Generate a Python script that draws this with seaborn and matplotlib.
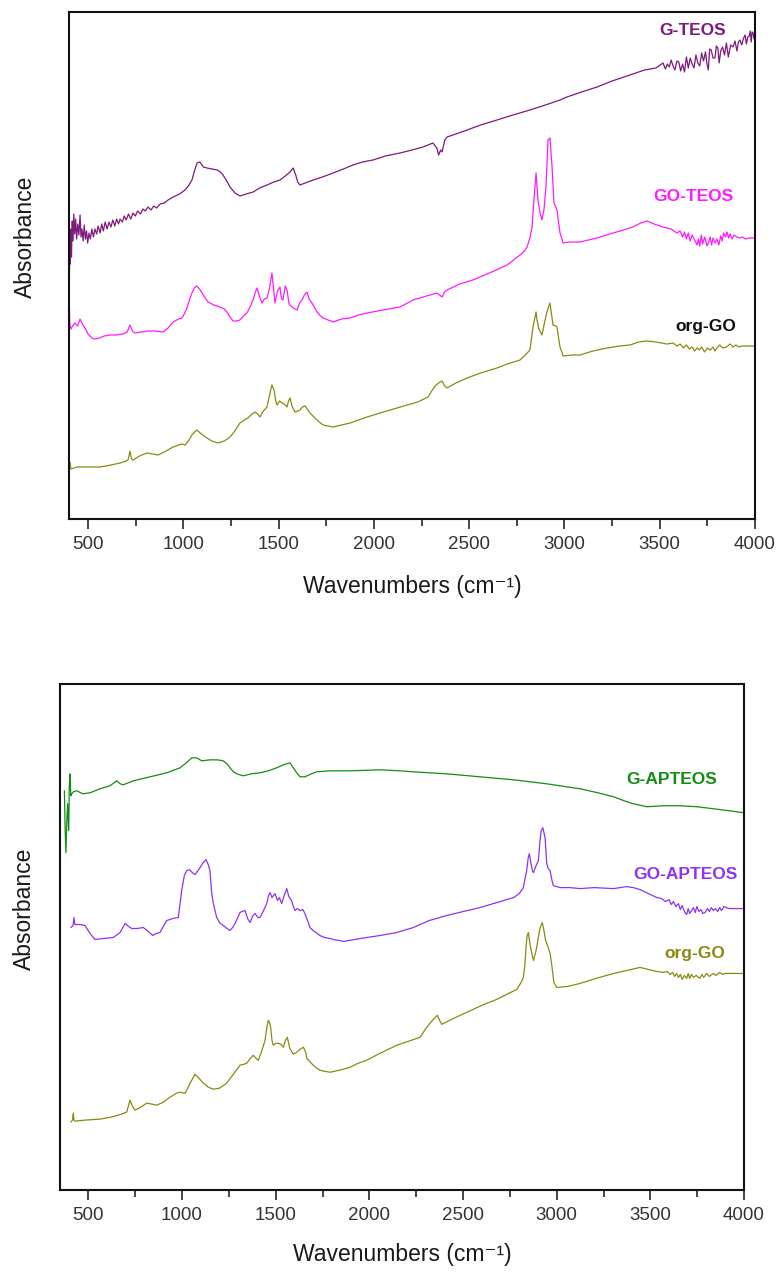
import numpy as np
import matplotlib
matplotlib.use("Agg")
import matplotlib.pyplot as plt
import seaborn as sns

# ---------------- spectra: TEOS panel ----------------
g_teos_wn = [400, 402, 404, 407, 410, 413, 417, 421, 425, 430, 435, 440, 446, 452, 458, 463, 468,
             474, 480, 486, 492, 498, 505, 512, 520, 528, 536, 545, 553, 563, 572, 580, 590, 600,
             610, 620, 630, 640, 650, 660, 668, 680, 690, 700, 712, 724, 736, 748, 760, 775, 788,
             800, 815, 830, 845, 860, 878, 900, 920, 947, 980, 1009, 1030, 1045,
             1060, 1072, 1087, 1105, 1124, 1150, 1177, 1195, 1208, 1225, 1245, 1271, 1297, 1330,
             1366, 1400, 1439, 1475, 1507, 1535, 1560, 1576, 1590, 1600, 1612, 1640, 1681, 1730,
             1786, 1840, 1890, 1940, 1995, 2060, 2137, 2200, 2258, 2310, 2330, 2340, 2350, 2358,
             2372, 2384, 2430, 2489, 2560, 2646, 2730, 2819, 2900, 2977, 3013, 3090, 3171, 3250,
             3344, 3420, 3480, 3517, 3530, 3540, 3550, 3560, 3570, 3580, 3590, 3600, 3610, 3620,
             3630, 3640, 3650, 3660, 3670, 3680, 3690, 3700, 3710, 3720, 3730, 3740, 3748, 3755,
             3762, 3770, 3780, 3790, 3797, 3805, 3812, 3820, 3830, 3840, 3850, 3860, 3872, 3885,
             3895, 3905, 3913, 3921, 3930, 3940, 3948, 3955, 3962, 3970, 3975, 3980, 3985, 3990,
             3995, 4000]
g_teos_abs = [3.02, 2.40, 2.80, 2.55, 2.90, 2.62, 2.98, 2.78, 3.05, 2.85, 3.00, 2.80, 2.95, 2.84,
              3.04, 2.82, 2.90, 2.78, 2.94, 2.80, 2.88, 2.76, 2.86, 2.80, 2.90, 2.82, 2.90, 2.85,
              2.93, 2.86, 2.95, 2.88, 2.97, 2.90, 2.97, 2.92, 2.99, 2.93, 3.00, 2.95, 3.00, 2.97,
              3.03, 2.99, 3.05, 3.00, 3.06, 3.03, 3.08, 3.05, 3.10, 3.08, 3.12, 3.09, 3.13, 3.11,
              3.15, 3.16, 3.19, 3.22, 3.25, 3.29, 3.34, 3.39, 3.49, 3.56, 3.57, 3.52, 3.51, 3.50,
              3.49, 3.47, 3.44, 3.39, 3.32, 3.26, 3.23, 3.25, 3.27, 3.31, 3.34, 3.37, 3.39, 3.43,
              3.47, 3.51, 3.44, 3.37, 3.34, 3.36, 3.39, 3.42, 3.46, 3.50, 3.54, 3.57, 3.59, 3.63,
              3.66, 3.69, 3.72, 3.76, 3.71, 3.64, 3.69, 3.67, 3.79, 3.82, 3.85, 3.89, 3.94, 3.99,
              4.04, 4.09, 4.14, 4.19, 4.22, 4.27, 4.32, 4.38, 4.44, 4.49, 4.51, 4.56, 4.50, 4.55,
              4.52, 4.59, 4.53, 4.49, 4.58, 4.57, 4.48, 4.55, 4.47, 4.62, 4.51, 4.61, 4.55, 4.51,
              4.64, 4.56, 4.53, 4.66, 4.58, 4.67, 4.55, 4.49, 4.70, 4.69, 4.61, 4.61, 4.73, 4.71,
              4.56, 4.68, 4.72, 4.64, 4.76, 4.62, 4.74, 4.72, 4.78, 4.68, 4.77, 4.79, 4.74, 4.81,
              4.84, 4.75, 4.82, 4.83, 4.88, 4.77, 4.87, 4.86, 4.80, 4.82]

go_teos_wn = [400, 404, 410, 416, 430, 445, 458, 470, 484, 500, 520, 536, 560, 585, 615, 650, 683,
              705, 720, 733, 746, 780, 809, 850, 893, 920, 946, 975, 993, 1005, 1019, 1032, 1045,
              1058, 1070, 1085, 1098, 1115, 1130, 1160, 1192, 1215, 1229, 1245, 1261, 1280, 1297,
              1320, 1334, 1350, 1366, 1378, 1387, 1400, 1413, 1425, 1439, 1452, 1460, 1465, 1472,
              1481, 1494, 1507, 1515, 1523, 1535, 1544, 1555, 1570, 1585, 1597, 1610, 1623, 1635,
              1649, 1660, 1675, 1690, 1702, 1715, 1733, 1760, 1786, 1830, 1875, 1920, 1964, 2048,
              2137, 2206, 2258, 2331, 2345, 2358, 2370, 2384, 2450, 2520, 2557, 2630, 2699, 2767,
              2790, 2804, 2820, 2830, 2840, 2851, 2861, 2872, 2882, 2893, 2903, 2914, 2924, 2935,
              2945, 2955, 2961, 2970, 2977, 2993, 3030, 3082, 3170, 3255, 3310, 3360, 3400, 3433,
              3470, 3517, 3560, 3590, 3607, 3620, 3630, 3640, 3650, 3660, 3670, 3683, 3696, 3703,
              3710, 3718, 3725, 3736, 3748, 3757, 3765, 3772, 3780, 3790, 3800, 3810, 3820, 3828,
              3835, 3845, 3853, 3862, 3870, 3880, 3890, 3905, 3921, 3935, 3950, 3970, 4000]
go_teos_abs = [2.30, 1.95, 1.90, 1.92, 1.96, 1.93, 2.00, 1.95, 1.91, 1.85, 1.81, 1.80, 1.81, 1.83,
               1.84, 1.84, 1.85, 1.87, 1.94, 1.88, 1.86, 1.87, 1.88, 1.88, 1.87, 1.91, 1.97, 2.00,
               2.01, 2.05, 2.11, 2.19, 2.26, 2.31, 2.33, 2.30, 2.26, 2.21, 2.17, 2.14, 2.12, 2.10,
               2.07, 2.02, 1.98, 1.98, 1.99, 2.04, 2.06, 2.12, 2.19, 2.27, 2.31, 2.22, 2.16, 2.20,
               2.21, 2.30, 2.40, 2.46, 2.33, 2.16, 2.28, 2.32, 2.20, 2.19, 2.33, 2.29, 2.15, 2.12,
               2.10, 2.09, 2.16, 2.19, 2.24, 2.27, 2.20, 2.16, 2.11, 2.07, 2.04, 2.01, 1.99, 1.97,
               2.00, 2.01, 2.04, 2.06, 2.09, 2.12, 2.19, 2.22, 2.26, 2.24, 2.22, 2.27, 2.29, 2.35,
               2.39, 2.42, 2.48, 2.54, 2.64, 2.68, 2.72, 2.82, 2.92, 3.19, 3.46, 3.19, 3.06, 2.99,
               3.10, 3.32, 3.79, 3.81, 3.52, 3.16, 3.12, 3.09, 2.95, 2.86, 2.76, 2.77, 2.77, 2.81,
               2.86, 2.89, 2.92, 2.96, 2.98, 2.95, 2.92, 2.90, 2.86, 2.88, 2.82, 2.87, 2.80, 2.86,
               2.78, 2.84, 2.79, 2.74, 2.80, 2.73, 2.84, 2.75, 2.82, 2.73, 2.77, 2.82, 2.74, 2.81,
               2.76, 2.80, 2.74, 2.83, 2.78, 2.86, 2.82, 2.87, 2.81, 2.85, 2.80, 2.84, 2.82, 2.81,
               2.82, 2.80, 2.81, 2.81]

org_go_top_wn = [400, 405, 410, 442, 500, 563, 620, 668, 700, 710, 720, 728, 736, 770, 809, 840,
                 867, 900, 946, 975, 993, 1009, 1030, 1045, 1070, 1095, 1124, 1150, 1182, 1215,
                 1245, 1270, 1297, 1320, 1339, 1360, 1376, 1390, 1402, 1420, 1439, 1455, 1465,
                 1476, 1485, 1492, 1505, 1518, 1530, 1544, 1552, 1560, 1570, 1586, 1600, 1612,
                 1625, 1639, 1650, 1665, 1685, 1702, 1720, 1733, 1760, 1786, 1830, 1875, 1920,
                 1964, 2032, 2137, 2174, 2230, 2284, 2300, 2321, 2340, 2358, 2372, 2384, 2430,
                 2489, 2560, 2646, 2700, 2767, 2800, 2819, 2835, 2851, 2856, 2866, 2882, 2895,
                 2908, 2924, 2940, 2955, 2961, 2970, 2977, 2993, 3040, 3082, 3150, 3223, 3290,
                 3344, 3390, 3433, 3480, 3538, 3570, 3590, 3607, 3625, 3640, 3655, 3670, 3683,
                 3696, 3708, 3720, 3735, 3750, 3765, 3780, 3790, 3800, 3815, 3830, 3850, 3869,
                 3885, 3900, 3915, 3930, 3960, 4000]
org_go_top_abs = [0.49, 0.57, 0.50, 0.52, 0.52, 0.52, 0.54, 0.56, 0.58, 0.59, 0.68, 0.60, 0.59,
                  0.63, 0.66, 0.65, 0.64, 0.67, 0.72, 0.74, 0.75, 0.74, 0.79, 0.84, 0.89, 0.85,
                  0.81, 0.78, 0.76, 0.78, 0.82, 0.88, 0.96, 0.99, 1.01, 1.05, 1.07, 1.05, 1.02,
                  1.08, 1.12, 1.26, 1.34, 1.29, 1.18, 1.14, 1.18, 1.16, 1.15, 1.12, 1.18, 1.21,
                  1.13, 1.07, 1.08, 1.09, 1.12, 1.13, 1.10, 1.06, 1.02, 0.99, 0.96, 0.94, 0.93,
                  0.92, 0.94, 0.96, 0.99, 1.02, 1.06, 1.12, 1.14, 1.17, 1.22, 1.27, 1.33, 1.36,
                  1.38, 1.33, 1.31, 1.36, 1.41, 1.46, 1.51, 1.55, 1.59, 1.65, 1.69, 1.92, 2.07,
                  1.99, 1.90, 1.84, 1.96, 2.07, 2.16, 1.94, 1.93, 1.92, 1.80, 1.72, 1.63, 1.64,
                  1.64, 1.68, 1.71, 1.73, 1.74, 1.77, 1.78, 1.77, 1.75, 1.76, 1.73, 1.75, 1.71,
                  1.74, 1.70, 1.72, 1.68, 1.71, 1.69, 1.72, 1.67, 1.71, 1.69, 1.72, 1.68, 1.71,
                  1.74, 1.71, 1.72, 1.75, 1.72, 1.74, 1.72, 1.73, 1.73, 1.73]

# ---------------- spectra: APTEOS panel ----------------
g_apteos_wn = [372, 376, 380, 385, 389, 395, 398, 402, 406, 411, 420, 438, 470, 509, 562, 615,
               651, 670, 686, 740, 829, 918, 989, 1016, 1035, 1052, 1078, 1105, 1149, 1190, 1220,
               1240, 1256, 1275, 1292, 1327, 1370, 1416, 1460, 1505, 1540, 1576, 1594, 1612,
               1630, 1656, 1690, 1719, 1790, 1897, 2057, 2164, 2235, 2413, 2591, 2770, 2947,
               3125, 3220, 3304, 3360, 3409, 3481, 3570, 3659, 3750, 3836, 3920, 4000]
g_apteos_abs = [4.00, 3.60, 3.38, 3.70, 3.87, 3.60, 4.05, 4.17, 3.95, 3.97, 3.99, 4.00, 3.97,
                3.98, 4.02, 4.05, 4.10, 4.07, 4.06, 4.10, 4.14, 4.18, 4.23, 4.27, 4.30, 4.33,
                4.33, 4.30, 4.31, 4.31, 4.30, 4.27, 4.23, 4.19, 4.17, 4.15, 4.17, 4.18, 4.20,
                4.23, 4.26, 4.28, 4.23, 4.18, 4.14, 4.14, 4.17, 4.19, 4.20, 4.20, 4.21, 4.20,
                4.19, 4.17, 4.14, 4.11, 4.07, 4.02, 3.98, 3.94, 3.90, 3.87, 3.84, 3.85, 3.85,
                3.84, 3.82, 3.80, 3.78]

go_apteos_wn = [407, 418, 423, 428, 455, 482, 509, 535, 580, 633, 669, 696, 715, 731, 760, 793,
                820, 843, 862, 882, 900, 918, 950, 980, 998, 1012, 1025, 1039, 1055, 1069, 1085,
                1096, 1112, 1128, 1140, 1149, 1158, 1167, 1185, 1200, 1220, 1240, 1256, 1270,
                1283, 1300, 1309, 1320, 1336, 1350, 1363, 1378, 1390, 1405, 1416, 1435, 1452,
                1462, 1470, 1480, 1496, 1510, 1520, 1532, 1545, 1559, 1570, 1585, 1594, 1603,
                1615, 1630, 1645, 1656, 1670, 1683, 1700, 1715, 1736, 1760, 1790, 1807, 1840,
                1861, 1920, 1986, 2057, 2146, 2235, 2320, 2413, 2500, 2591, 2680, 2770, 2800,
                2822, 2832, 2840, 2848, 2854, 2862, 2870, 2876, 2890, 2902, 2910, 2917, 2926,
                2932, 2938, 2947, 2955, 2965, 2975, 2982, 3018, 3070, 3125, 3200, 3304, 3374,
                3410, 3445, 3490, 3534, 3560, 3580, 3600, 3612, 3623, 3637, 3650, 3660, 3670,
                3682, 3694, 3702, 3710, 3720, 3730, 3740, 3748, 3760, 3770, 3781, 3792, 3805,
                3815, 3826, 3836, 3848, 3860, 3870, 3880, 3893, 3907, 3920, 3940, 3970, 4000]
go_apteos_abs = [2.63, 2.65, 2.73, 2.66, 2.66, 2.65, 2.57, 2.51, 2.52, 2.53, 2.58, 2.67, 2.64,
                 2.62, 2.62, 2.63, 2.59, 2.55, 2.57, 2.58, 2.64, 2.70, 2.72, 2.73, 3.00, 3.15,
                 3.20, 3.21, 3.18, 3.16, 3.20, 3.23, 3.28, 3.31, 3.26, 3.20, 2.98, 2.87, 2.73,
                 2.68, 2.65, 2.62, 2.60, 2.63, 2.67, 2.74, 2.78, 2.79, 2.80, 2.72, 2.68, 2.75,
                 2.77, 2.73, 2.73, 2.80, 2.87, 2.95, 2.98, 2.93, 2.97, 2.90, 2.93, 2.87, 2.95,
                 3.02, 2.94, 2.90, 2.84, 2.80, 2.82, 2.80, 2.81, 2.77, 2.70, 2.63, 2.60, 2.58,
                 2.55, 2.53, 2.52, 2.51, 2.50, 2.49, 2.51, 2.53, 2.55, 2.58, 2.63, 2.70, 2.75,
                 2.79, 2.83, 2.88, 2.93, 2.97, 3.03, 3.13, 3.20, 3.33, 3.37, 3.28, 3.20, 3.18,
                 3.25, 3.30, 3.48, 3.60, 3.63, 3.58, 3.53, 3.27, 3.22, 3.20, 3.10, 3.05, 3.03,
                 3.03, 3.02, 3.03, 3.02, 3.04, 3.03, 3.01, 2.97, 2.93, 2.92, 2.89, 2.91, 2.86,
                 2.89, 2.84, 2.87, 2.81, 2.85, 2.79, 2.76, 2.82, 2.77, 2.80, 2.83, 2.78, 2.84,
                 2.79, 2.81, 2.77, 2.78, 2.82, 2.79, 2.83, 2.80, 2.82, 2.79, 2.83, 2.80, 2.84,
                 2.83, 2.82, 2.82, 2.82, 2.82]

org_go_bot_wn = [407, 415, 419, 423, 428, 480, 562, 620, 660, 690, 704, 715, 722, 735, 749, 780,
                 811, 840, 865, 900, 936, 970, 989, 1016, 1030, 1043, 1069, 1090, 1114, 1140,
                 1167, 1200, 1238, 1270, 1309, 1330, 1345, 1365, 1380, 1395, 1407, 1425, 1443,
                 1452, 1460, 1467, 1473, 1480, 1487, 1500, 1514, 1528, 1541, 1552, 1562, 1575,
                 1594, 1612, 1630, 1648, 1660, 1666, 1685, 1701, 1720, 1736, 1760, 1790, 1840,
                 1897, 1940, 1986, 2057, 2146, 2270, 2306, 2341, 2363, 2375, 2386, 2450, 2520,
                 2600, 2680, 2787, 2810, 2822, 2830, 2835, 2842, 2849, 2856, 2866, 2876, 2890,
                 2902, 2912, 2923, 2932, 2941, 2953, 2965, 2974, 2985, 3000, 3060, 3125, 3210,
                 3304, 3374, 3445, 3490, 3534, 3570, 3590, 3605, 3618, 3630, 3640, 3650, 3660,
                 3670, 3682, 3694, 3702, 3710, 3720, 3730, 3745, 3765, 3775, 3785, 3800, 3815,
                 3836, 3850, 3870, 3885, 3900, 3940, 4000]
org_go_bot_abs = [0.68, 0.70, 0.77, 0.70, 0.69, 0.70, 0.71, 0.73, 0.75, 0.77, 0.78, 0.85, 0.90,
                  0.84, 0.80, 0.83, 0.87, 0.86, 0.85, 0.88, 0.93, 0.97, 0.98, 0.97, 1.02, 1.07,
                  1.16, 1.12, 1.07, 1.03, 1.01, 1.02, 1.07, 1.15, 1.25, 1.26, 1.27, 1.32, 1.35,
                  1.32, 1.30, 1.39, 1.50, 1.62, 1.70, 1.68, 1.63, 1.50, 1.45, 1.47, 1.47, 1.46,
                  1.43, 1.50, 1.53, 1.42, 1.36, 1.38, 1.41, 1.43, 1.38, 1.32, 1.28, 1.25, 1.22,
                  1.20, 1.19, 1.18, 1.20, 1.23, 1.27, 1.30, 1.37, 1.45, 1.53, 1.63, 1.71, 1.75,
                  1.70, 1.66, 1.72, 1.78, 1.85, 1.91, 2.01, 2.08, 2.13, 2.25, 2.40, 2.55, 2.58,
                  2.48, 2.38, 2.30, 2.40, 2.53, 2.63, 2.68, 2.60, 2.50, 2.44, 2.37, 2.25, 2.08,
                  2.03, 2.04, 2.07, 2.12, 2.17, 2.20, 2.23, 2.21, 2.19, 2.18, 2.19, 2.16, 2.18,
                  2.14, 2.17, 2.13, 2.16, 2.11, 2.15, 2.12, 2.17, 2.12, 2.16, 2.13, 2.15, 2.12,
                  2.16, 2.13, 2.17, 2.14, 2.17, 2.15, 2.18, 2.16, 2.17, 2.17, 2.17]

# series labels
teos_names = ["G-TEOS", "GO-TEOS", "org-GO"]
apteos_names = ["G-APTEOS", "GO-APTEOS", "org-GO"]
x_ticks = [500, 1000, 1500, 2000, 2500, 3000, 3500, 4000]

# ---------------- styling ----------------
sns.set_style("ticks")
plt.rcParams["font.family"] = ["Liberation Sans", "DejaVu Sans"]

C_PURPLE = "#7d1a7b"
C_MAGENTA = "#ff1aff"
C_OLIVE = "#8a8a12"
C_GREEN = "#138c13"
C_VIOLET = "#8d33f2"

fig = plt.figure(figsize=(7.79, 12.72), dpi=100)
ax1 = fig.add_axes([69 / 779, 1 - 519 / 1272, 686 / 779, 507 / 1272])
ax2 = fig.add_axes([60.3 / 779, 1 - 1190 / 1272, 683.7 / 779, 506 / 1272])


def draw_line(ax, wn, ab, color):
    sns.lineplot(x=wn, y=ab, ax=ax, color=color, linewidth=0.9,
                 estimator=None, sort=False, legend=False)


draw_line(ax1, g_teos_wn, g_teos_abs, C_PURPLE)
draw_line(ax1, go_teos_wn, go_teos_abs, C_MAGENTA)
draw_line(ax1, org_go_top_wn, org_go_top_abs, C_OLIVE)

draw_line(ax2, g_apteos_wn, g_apteos_abs, C_GREEN)
draw_line(ax2, go_apteos_wn, go_apteos_abs, C_VIOLET)
draw_line(ax2, org_go_bot_wn, org_go_bot_abs, C_OLIVE)

lab_kw = dict(fontsize=12.5, fontweight="bold", ha="center", va="center")
ax1.text(3670, 4.88, teos_names[0], color=C_PURPLE, **lab_kw)
ax1.text(3675, 3.22, teos_names[1], color=C_MAGENTA, **lab_kw)
ax1.text(3743, 1.92, teos_names[2], color="#111111", **lab_kw)
ax2.text(3616, 4.11, apteos_names[0], color=C_GREEN, **lab_kw)
ax2.text(3685, 3.16, apteos_names[1], color=C_VIOLET, **lab_kw)
ax2.text(3739, 2.37, apteos_names[2], color=C_OLIVE, **lab_kw)

for ax, xmin, ylab_x, ylab_y, xlab_y in [(ax1, 400, -0.064, 0.556, -0.134),
                                         (ax2, 350, -0.052, 0.555, -0.128)]:
    ax.set_xlim(xmin, 4000)
    ax.set_ylim(0, 5.07)
    ax.set_xticks(x_ticks)
    ax.set_xticks([750, 1250, 1750, 2250, 2750, 3250, 3750], minor=True)
    ax.set_yticks([])
    ax.tick_params(axis="x", which="major", direction="out", length=7, width=1.2,
                   labelsize=13.5, labelcolor="#333333", pad=5)
    ax.tick_params(axis="x", which="minor", direction="out", length=5, width=1.2)
    for sp in ax.spines.values():
        sp.set_visible(True)
        sp.set_linewidth(1.5)
        sp.set_color("#111111")
    ax.set_xlabel("Wavenumbers (cm\u207b\u00b9)", fontsize=16.5, color="#1a1a1a")
    ax.set_ylabel("Absorbance", fontsize=16.5, color="#1a1a1a")
    ax.xaxis.set_label_coords(0.5, xlab_y)
    ax.xaxis.label.set_verticalalignment("center")
    ax.yaxis.set_label_coords(ylab_x, ylab_y)
    ax.yaxis.label.set_verticalalignment("center")

fig.savefig("out.png", dpi=100, facecolor="white")
